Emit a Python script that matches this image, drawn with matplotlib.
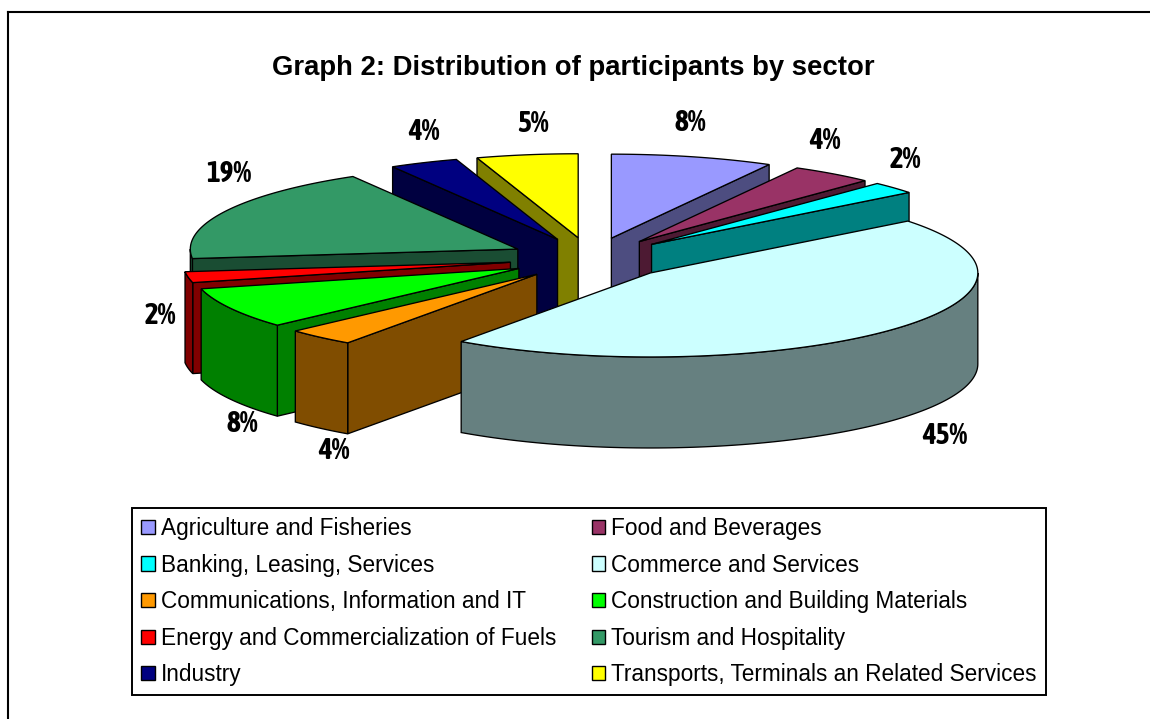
import numpy as np
import matplotlib
matplotlib.use("Agg")
import matplotlib.pyplot as plt
from matplotlib import font_manager, patheffects
from matplotlib.patches import Polygon, Patch

categories = ["Agriculture and Fisheries", "Food and Beverages", "Banking, Leasing, Services",
              "Commerce and Services", "Communications, Information and IT",
              "Construction and Building Materials", "Energy and Commercialization of Fuels",
              "Tourism and Hospitality", "Industry", "Transports, Terminals an Related Services"]
shares = [8.0, 4.1, 2.3, 45.4, 3.4, 7.9, 2.1, 18.4, 3.4, 5.0]
share_labels = ["8%", "4%", "2%", "45%", "4%", "8%", "2%", "19%", "4%", "5%"]
colors = ["#9999FF", "#993366", "#00FFFF", "#CCFFFF", "#FF9900",
          "#00FF00", "#FF0000", "#339966", "#000080", "#FFFF00"]
title = "Graph 2: Distribution of participants by sector"

# layout (pixels)
W, H = 1150, 719
CX, CY, RX, RY, DEPTH, EXPLODE = 591, 258.5, 327.5, 84, 91, 0.25
draw_order = [9, 0, 8, 1, 7, 2, 6, 5, 4, 3]
label_pos = [(690, 123), (825, 141), (905, 160), (945, 436), (334, 451),
             (242, 424), (160, 316), (229, 174), (424, 132), (533, 124)]
LW = 0.95

plt.rcParams["font.family"] = ["Liberation Sans", "DejaVu Sans"]
fig = plt.figure(figsize=(W / 100, H / 100), dpi=100, facecolor="white")
ax = fig.add_axes([8 / W, 0, (W - 8) / W, (H - 12) / H])
ax.set_xlim(8, W)
ax.set_ylim(H, 12)
for s in ("right", "bottom"):
    ax.spines[s].set_visible(False)
for s in ("left", "top"):
    ax.spines[s].set_linewidth(1.5)
ax.set_xticks([])
ax.set_yticks([])


def shade(hex_color):
    return tuple(c * 0.5 for c in matplotlib.colors.to_rgb(hex_color))


def rim(ax0, ay0, t0, t1):
    n = max(2, int(abs(t1 - t0) / 1.0) + 2)
    t = np.radians(np.linspace(t0, t1, n))
    return np.column_stack([ax0 + RX * np.sin(t), ay0 - RY * np.cos(t)])


def face(pts, fc):
    ax.add_patch(Polygon(pts, closed=True, facecolor=fc, edgecolor="black",
                         linewidth=LW, joinstyle="miter"))


total = sum(shares)
edges = np.concatenate([[0], np.cumsum(shares)]) / total * 360

for i in draw_order:
    t0, t1 = edges[i], edges[i + 1]
    mid = np.radians((t0 + t1) / 2)
    ax0 = CX + EXPLODE * RX * np.sin(mid)
    ay0 = CY - EXPLODE * RY * np.cos(mid)
    apex = np.array([[ax0, ay0]])
    down = np.array([0, DEPTH])
    wall = shade(colors[i])
    for t, visible in ((t0, np.sin(np.radians(t0)) < -1e-9), (t1, np.sin(np.radians(t1)) > 1e-9)):
        if visible:
            p = rim(ax0, ay0, t, t)[:1]
            face(np.vstack([apex, p, p + down, apex + down]), wall)
    a, b = max(t0, 90), min(t1, 270)
    if b > a:
        arc = rim(ax0, ay0, a, b)
        face(np.vstack([arc, arc[::-1] + down]), wall)
    face(np.vstack([apex, rim(ax0, ay0, t0, t1)]), colors[i])

# a condensed bold face if one is installed; otherwise thicken the condensed face
fonts = font_manager.fontManager.ttflist
is_narrow = lambda f: "narrow" in f.name.lower() or "condensed" in f.name.lower() or "narrow" in f.fname.lower()
is_bold = lambda f: f.weight in ("bold", 700) or "bold" in f.fname.lower()
bold_narrow = [f for f in fonts if is_narrow(f) and is_bold(f) and "italic" not in f.fname.lower()
               and "oblique" not in f.fname.lower()]
plain_narrow = [f for f in fonts if is_narrow(f) and "italic" not in f.fname.lower()]
if bold_narrow:
    label_font = font_manager.FontProperties(fname=bold_narrow[0].fname, size=21)
    effects = []
elif plain_narrow:
    label_font = font_manager.FontProperties(fname=plain_narrow[0].fname, size=21)
    effects = [patheffects.withStroke(linewidth=1.0, foreground="black")]
else:
    label_font = font_manager.FontProperties(family="Liberation Sans", weight="bold", size=18.5)
    effects = []
for txt, (x, y) in zip(share_labels, label_pos):
    ax.text(x, y, txt, ha="center", va="center", fontproperties=label_font,
            color="black", path_effects=effects)

ax.text(573.5, 68, title, ha="center", va="center", fontsize=19.8, fontweight="bold", color="black")

handles = [Patch(facecolor=c, edgecolor="black", linewidth=1.0) for c in colors]
idx = [0, 2, 4, 6, 8, 1, 3, 5, 7, 9]
leg = ax.legend([handles[i] for i in idx], [categories[i] for i in idx], ncol=2,
                loc="upper left", bbox_to_anchor=(132, 508, 914, 187),
                bbox_transform=ax.transData, mode="expand", fontsize=16.25,
                handlelength=0.6, handleheight=0.6, handletextpad=0.27,
                labelspacing=0.6, borderpad=0.4, borderaxespad=0, fancybox=False,
                edgecolor="black", framealpha=1, labelcolor="black")
leg.get_frame().set_linewidth(1.4)

fig.savefig("out.png", dpi=100)
